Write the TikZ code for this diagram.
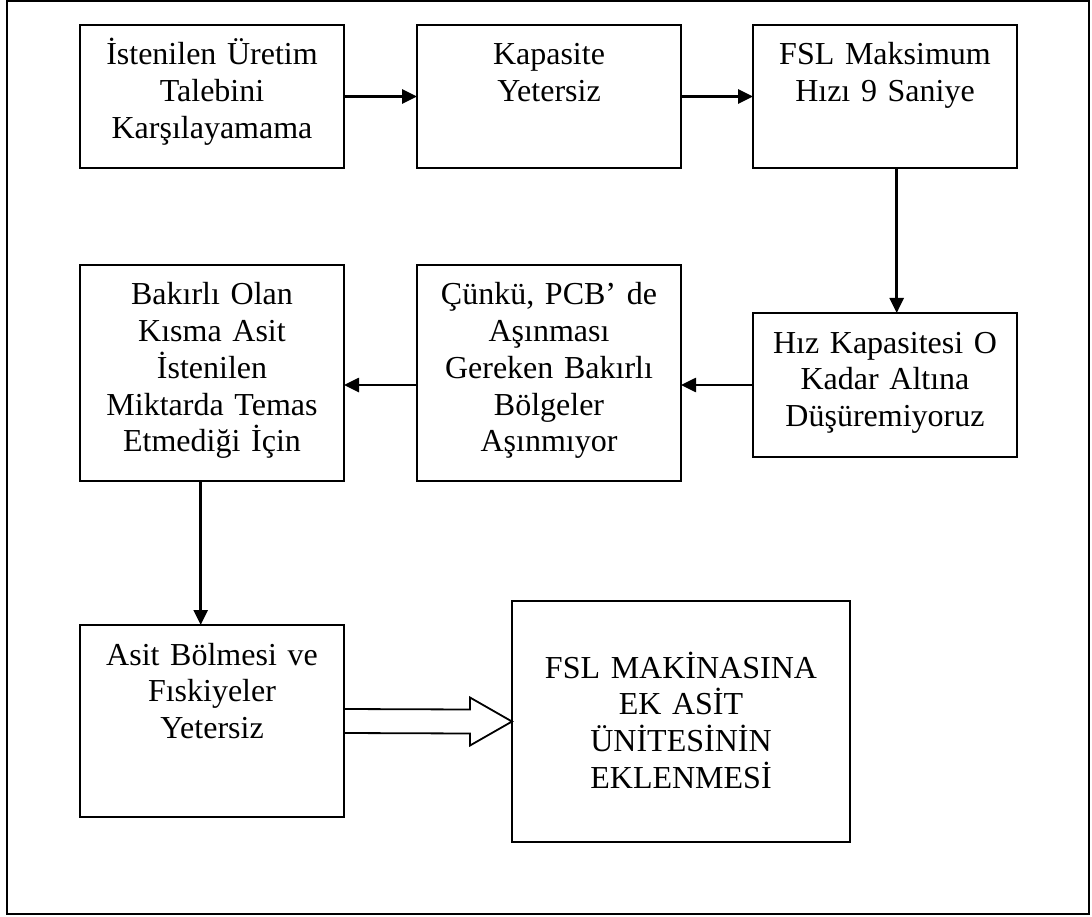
\documentclass[tikz,border=0pt]{standalone}
\usepackage{fontspec}
\setmainfont{Liberation Serif}
\usetikzlibrary{arrows.meta}

\tikzset{
  box/.style={draw=black, line width=1.8pt, inner sep=0pt, outer sep=0pt},
  txt/.style={text width=#1, align=center, inner sep=0pt, anchor=base,
              font=\fontsize{32pt}{36.7pt}\selectfont},
  arr/.style={line width=2.6pt, -{Triangle[length=15pt,width=14pt]}},
  frame/.style={draw=black, line width=2pt},
  fatarrow/.style={draw=black, line width=1.8pt, line join=miter}
}

\begin{document}
\begin{tikzpicture}[x=1pt,y=-1pt]
  \useasboundingbox (0,0) rectangle (1092,917);
  % outer frame
  \draw[frame] (7,1) rectangle (1089,914);

  % first row
  \node[box, minimum width=264pt, minimum height=143pt] (b1) at (212,96.5) {};
  \node[txt=264pt] (t1) at ([yshift=-40pt]b1.north) {İstenilen Üretim\\Talebini\\Karşılayamama};
  \node[box, minimum width=264pt, minimum height=143pt] (b2) at (549,96.5) {};
  \node[txt=264pt] (t2) at ([yshift=-40pt]b2.north) {Kapasite\\Yetersiz};
  \node[box, minimum width=264pt, minimum height=143pt] (b3) at (885,96.5) {};
  \node[txt=264pt] (t3) at ([yshift=-40pt]b3.north) {FSL Maksimum\\Hızı 9 Saniye};

  % second row
  \node[box, minimum width=264pt, minimum height=144pt] (b4) at (885,385) {};
  \node[txt=264pt] (t4) at ([yshift=-40pt]b4.north) {Hız Kapasitesi O\\Kadar Altına\\Düşüremiyoruz};
  \node[box, minimum width=264pt, minimum height=216pt] (b5) at (549,373) {};
  \node[txt=264pt] (t5) at ([yshift=-40pt]b5.north) {Çünkü, PCB’ de\\Aşınması\\Gereken Bakırlı\\Bölgeler\\Aşınmıyor};
  \node[box, minimum width=264pt, minimum height=216pt] (b6) at (212,373) {};
  \node[txt=264pt] (t6) at ([yshift=-40pt]b6.north) {Bakırlı Olan\\Kısma Asit\\İstenilen\\Miktarda Temas\\Etmediği İçin};

  % third row
  \node[box, minimum width=264pt, minimum height=192pt] (b7) at (212,721) {};
  \node[txt=264pt] (t7) at ([yshift=-40pt]b7.north) {Asit Bölmesi ve\\Fıskiyeler\\Yetersiz};
  \node[box, minimum width=338pt, minimum height=241pt] (b8) at (681,721.5) {};
  \node[txt=338pt] (t8) at ([yshift=-77pt]b8.north) {FSL MAKİNASINA\\EK ASİT\\ÜNİTESİNİN\\EKLENMESİ};

  % connectors
  \draw[arr] (b1) -- (b2);
  \draw[arr] (b2) -- (b3);
  \draw[arr] ([xshift=11.7pt]b3.south) -- ([xshift=11.7pt]b3.south |- b4.north);
  \draw[arr] (b4.west) -- (b4.west -| b5.east);
  \draw[arr] (b5.west |- b4.west) -- (b4.west -| b6.east);
  \draw[arr] ([xshift=-11.3pt]b6.south) -- ([xshift=-11.3pt]b6.south |- b7.north);

  % hollow block arrow into the result box
  \draw[fatarrow]
    ([yshift=12pt]b7.east)
    -- ([xshift=-42pt,yshift=12pt]b8.west)
    -- ([xshift=-42pt,yshift=24pt]b8.west)
    -- (b8.west)
    -- ([xshift=-42pt,yshift=-24pt]b8.west)
    -- ([xshift=-42pt,yshift=-12pt]b8.west)
    -- ([yshift=-12pt]b7.east);
\end{tikzpicture}
\end{document}
